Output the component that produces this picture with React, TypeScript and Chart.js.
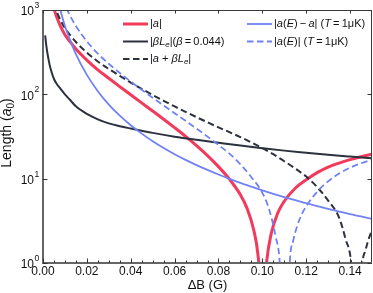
import React, { useEffect, useRef } from "react";
import { Chart, registerables } from "chart.js";

Chart.register(...registerables);

// ---------- data ----------
const redX = [0.004, 0.005, 0.006, 0.008, 0.01, 0.0125, 0.015, 0.02, 0.025, 0.03, 0.035, 0.04, 0.045, 0.05, 0.055, 0.06, 0.065, 0.07, 0.075, 0.08, 0.085, 0.09, 0.093, 0.096, 0.098, 0.099, 0.0997, 0.1004, 0.101, 0.102, 0.104, 0.107, 0.11, 0.115, 0.12, 0.125, 0.13, 0.135, 0.14, 0.145, 0.15];
const redY = [1300, 1040, 860, 640, 510, 415, 345, 255, 195, 155, 123.6, 98.9, 79.1, 63.4, 50.7, 40.3, 31.8, 24.7, 18.8, 13.9, 9.86, 6.44, 4.47, 2.51, 1.26, 0.55, 0.1, 0.1, 0.45, 1.05, 2.2, 3.9, 5.4, 7.7, 9.7, 11.8, 13.7, 15.3, 16.8, 18.2, 19.5];

const darkX = [0.001, 0.0015, 0.002, 0.003, 0.004, 0.005, 0.006, 0.008, 0.01, 0.0125, 0.015, 0.02, 0.025, 0.03, 0.035, 0.04, 0.045, 0.05, 0.06, 0.07, 0.08, 0.09, 0.1, 0.11, 0.12, 0.13, 0.14, 0.15];
const darkY = [500, 380, 310, 225, 180, 152, 136, 116, 100, 85, 72, 58.5, 50.5, 45.2, 41.9, 39.3, 37.0, 34.9, 31.5, 28.9, 26.7, 24.7, 23.0, 21.5, 20.3, 19.2, 18.3, 17.5];

const sumX = [0.005, 0.006, 0.008, 0.01, 0.0125, 0.015, 0.02, 0.025, 0.03, 0.035, 0.04, 0.045, 0.05, 0.055, 0.06, 0.065, 0.07, 0.075, 0.08, 0.085, 0.09, 0.095, 0.1, 0.105, 0.11, 0.115, 0.12, 0.125, 0.13, 0.135, 0.138, 0.1405, 0.1425, 0.144, 0.1457, 0.147, 0.148, 0.149, 0.15];
const sumY = [1192, 996, 756, 610, 500, 418, 313, 245.5, 200, 165.5, 138, 116, 98.3, 83.8, 71.8, 62, 53.6, 46.6, 40.6, 35.6, 31.1, 26.9, 23.0, 19.5, 16.1, 13.2, 10.6, 7.95, 5.5, 3.45, 1.9, 1.0, 0.15, 0.15, 1.0, 1.4, 1.75, 2.1, 2.45];

const diffX = [0.007, 0.008, 0.009, 0.01, 0.0125, 0.015, 0.02, 0.025, 0.03, 0.035, 0.04, 0.045, 0.05, 0.055, 0.06, 0.065, 0.07, 0.075, 0.08, 0.085, 0.09, 0.095, 0.1, 0.105, 0.11, 0.115, 0.12, 0.125, 0.13, 0.135, 0.14, 0.145, 0.15];
const diffY = [1250, 980, 790, 645, 430, 300, 170, 109, 75.5, 55.8, 43, 34.2, 27.8, 23.1, 19.5, 16.7, 14.5, 12.7, 11.2, 9.95, 8.9, 8.03, 7.27, 6.62, 6.05, 5.55, 5.12, 4.73, 4.38, 4.08, 3.8, 3.56, 3.33];

const aeX = [0.009, 0.01, 0.0125, 0.015, 0.02, 0.025, 0.03, 0.035, 0.04, 0.045, 0.05, 0.055, 0.06, 0.065, 0.07, 0.075, 0.08, 0.085, 0.09, 0.095, 0.1, 0.103, 0.106, 0.108, 0.1093, 0.1115, 0.1125, 0.114, 0.116, 0.118, 0.12, 0.125, 0.13, 0.135, 0.14, 0.145, 0.15];
const aeY = [1360, 1155, 845, 645, 425, 304, 230.5, 179.4, 142, 113.3, 91.2, 73.8, 59.8, 48.5, 39.2, 31.5, 25.1, 19.8, 14.8, 10.4, 6.8, 4.4, 2.1, 0.95, 0.15, 0.15, 1.0, 1.8, 2.8, 3.8, 4.7, 7.0, 9.3, 11.5, 13.5, 15.2, 16.8];

const xMajorTicks = [0, 0.02, 0.04, 0.06, 0.08, 0.1, 0.12, 0.14];
const xTickLabels = ["0.00", "0.02", "0.04", "0.06", "0.08", "0.10", "0.12", "0.14"];
const xMinorTicks = [0.005, 0.01, 0.015, 0.025, 0.03, 0.035, 0.045, 0.05, 0.055, 0.065, 0.07, 0.075, 0.085, 0.09, 0.095, 0.105, 0.11, 0.115, 0.125, 0.13, 0.135, 0.145];
const yTickValues = [1, 10, 100, 1000];
const yTickExponents = ["0", "1", "2", "3"];

const RED = "#f23a5c";
const DARK = "#2b313d";
const BLUE = "#7182f5";

type Seg = { t: string; i?: boolean; sub?: boolean; sup?: boolean };

const FAMILY = '"Liberation Sans", Arial, Helvetica, sans-serif';

function segFont(s: Seg, size: number) {
  const sz = s.sub || s.sup ? size * 0.72 : size;
  return `${s.i ? "italic " : ""}${sz}px ${FAMILY}`;
}

function drawRich(ctx: CanvasRenderingContext2D, segs: Seg[], x: number, y: number, size: number, align: "left" | "center" | "right") {
  ctx.save();
  ctx.textBaseline = "middle";
  ctx.textAlign = "left";
  let total = 0;
  for (const s of segs) {
    ctx.font = segFont(s, size);
    total += ctx.measureText(s.t).width;
  }
  let cx = align === "left" ? x : align === "center" ? x - total / 2 : x - total;
  for (const s of segs) {
    ctx.font = segFont(s, size);
    const dy = s.sub ? size * 0.28 : s.sup ? -size * 0.4 : 0;
    ctx.fillText(s.t, cx, y + dy);
    cx += ctx.measureText(s.t).width;
  }
  ctx.restore();
}

const legendItems: { segs: Seg[]; color: string; width: number; dash: number[]; x: number; y: number }[] = [
  { segs: [{ t: "|" }, { t: "a", i: true }, { t: "|" }], color: RED, width: 3, dash: [], x: 123, y: 24 },
  {
    segs: [{ t: "|" }, { t: "β", i: true }, { t: "L", i: true }, { t: "e", i: true, sub: true }, { t: "|(" }, { t: "β", i: true }, { t: "\u2009=\u20090.044)" }],
    color: DARK, width: 2, dash: [], x: 123, y: 41.5,
  },
  {
    segs: [{ t: "|" }, { t: "a", i: true }, { t: " + " }, { t: "β", i: true }, { t: "L", i: true }, { t: "e", i: true, sub: true }, { t: "|" }],
    color: DARK, width: 2, dash: [6.5, 3.5], x: 123, y: 59,
  },
  {
    segs: [{ t: "|" }, { t: "a", i: true }, { t: "(" }, { t: "E", i: true }, { t: ")\u2009−\u2009" }, { t: "a", i: true }, { t: "| (" }, { t: "T", i: true }, { t: "\u2009=\u20091μK)" }],
    color: BLUE, width: 1.8, dash: [], x: 247, y: 24,
  },
  {
    segs: [{ t: "|" }, { t: "a", i: true }, { t: "(" }, { t: "E", i: true }, { t: ")| (" }, { t: "T", i: true }, { t: "\u2009=\u20091μK)" }],
    color: BLUE, width: 1.8, dash: [6.5, 3.5], x: 247, y: 41.5,
  },
];

const framePlugin = {
  id: "frameAndLabels",
  afterDatasetsDraw(chart: any) {
    const { ctx, chartArea: a, scales } = chart;
    const xs = scales.x;
    const ys = scales.y;
    ctx.save();
    // top & right thin border
    ctx.strokeStyle = "#3a3a3a";
    ctx.lineWidth = 1;
    ctx.beginPath();
    ctx.moveTo(a.left, a.top + 0.5);
    ctx.lineTo(a.right, a.top + 0.5);
    ctx.moveTo(a.right - 0.5, a.top);
    ctx.lineTo(a.right - 0.5, a.bottom);
    ctx.stroke();
    // left & bottom thick axes
    ctx.strokeStyle = "#666";
    ctx.lineWidth = 2;
    ctx.beginPath();
    ctx.moveTo(a.left, a.top);
    ctx.lineTo(a.left, a.bottom + 1);
    ctx.moveTo(a.left - 1, a.bottom);
    ctx.lineTo(a.right, a.bottom);
    ctx.stroke();
    // ticks
    ctx.strokeStyle = "#333";
    ctx.lineWidth = 1;
    ctx.beginPath();
    for (const v of xMajorTicks) {
      const px = Math.round(xs.getPixelForValue(v)) + 0.5;
      ctx.moveTo(px, a.bottom);
      ctx.lineTo(px, a.bottom - 4.5);
      ctx.moveTo(px, a.top);
      ctx.lineTo(px, a.top + 3.5);
    }
    for (const v of xMinorTicks) {
      const px = Math.round(xs.getPixelForValue(v)) + 0.5;
      ctx.moveTo(px, a.bottom);
      ctx.lineTo(px, a.bottom - 2.5);
    }
    for (const v of yTickValues) {
      const py = Math.round(ys.getPixelForValue(v)) + 0.5;
      ctx.moveTo(a.left, py);
      ctx.lineTo(a.left + 4.5, py);
      ctx.moveTo(a.right, py);
      ctx.lineTo(a.right - 4.5, py);
    }
    ctx.stroke();

    ctx.fillStyle = "#111";
    // x tick labels
    xMajorTicks.forEach((v, k) => {
      drawRich(ctx, [{ t: xTickLabels[k] }], xs.getPixelForValue(v), a.bottom + 8.5, 12, "center");
    });
    // y tick labels
    yTickValues.forEach((v, k) => {
      const py = ys.getPixelForValue(v);
      drawRich(ctx, [{ t: "10" }], a.left - 9, py + 2, 12, "right");
      drawRich(ctx, [{ t: yTickExponents[k] }], a.left - 8.5, py - 4.5, 8.6, "left");
    });
    // x title
    drawRich(ctx, [{ t: "ΔB (G)" }], (a.left + a.right) / 2, a.bottom + 22.5, 13, "center");
    // y title
    ctx.save();
    ctx.translate(7.5, 133);
    ctx.rotate(-Math.PI / 2);
    drawRich(ctx, [{ t: "Length (" }, { t: "a", i: true }, { t: "0", sub: true }, { t: ")" }], 0, 0, 14, "center");
    ctx.restore();

    // legend
    for (const it of legendItems) {
      ctx.save();
      ctx.strokeStyle = it.color;
      ctx.lineWidth = it.width;
      ctx.setLineDash(it.dash);
      ctx.beginPath();
      ctx.moveTo(it.x, it.y);
      ctx.lineTo(it.x + 25, it.y);
      ctx.stroke();
      ctx.restore();
      ctx.fillStyle = "#111";
      drawRich(ctx, it.segs, it.x + 27, it.y, 11, "left");
    }
    ctx.restore();
  },
};

function pts(xs: number[], ys: number[]) {
  return xs.map((x, k) => ({ x, y: ys[k] }));
}

export default function App() {
  const ref = useRef<HTMLCanvasElement | null>(null);
  useEffect(() => {
    document.body.style.margin = "0";
    if (!ref.current) return;
    const common = { pointRadius: 0, fill: false, cubicInterpolationMode: "monotone" as const };
    const chart = new Chart(ref.current, {
      type: "line",
      data: {
        datasets: [
          { ...common, label: "|a|", data: pts(redX, redY), borderColor: RED, borderWidth: 3, order: 5 },
          { ...common, label: "|βLe|(β=0.044)", data: pts(darkX, darkY), borderColor: DARK, borderWidth: 2, order: 4 },
          { ...common, label: "|a+βLe|", data: pts(sumX, sumY), borderColor: DARK, borderWidth: 2, borderDash: [6.5, 3.5], order: 3 },
          { ...common, label: "|a(E)−a| (T=1μK)", data: pts(diffX, diffY), borderColor: BLUE, borderWidth: 1.8, order: 2 },
          { ...common, label: "|a(E)| (T=1μK)", data: pts(aeX, aeY), borderColor: BLUE, borderWidth: 1.8, borderDash: [6.5, 3.5], order: 1 },
        ],
      },
      options: {
        responsive: false,
        animation: false,
        events: [],
        layout: { padding: { left: 43, right: 1, top: 10, bottom: 30 } },
        plugins: { legend: { display: false }, tooltip: { enabled: false } },
        scales: {
          x: { type: "linear", min: 0, max: 0.15, display: false },
          y: { type: "logarithmic", min: 1, max: 1000, display: false },
        },
      },
      plugins: [framePlugin],
    });
    return () => chart.destroy();
  }, []);
  return (
    <div style={{ position: "absolute", left: 0, top: 0, width: 373, height: 293, background: "#fff" }}>
      <canvas ref={ref} width={373} height={293} style={{ display: "block", width: 373, height: 293 }} />
    </div>
  );
}
